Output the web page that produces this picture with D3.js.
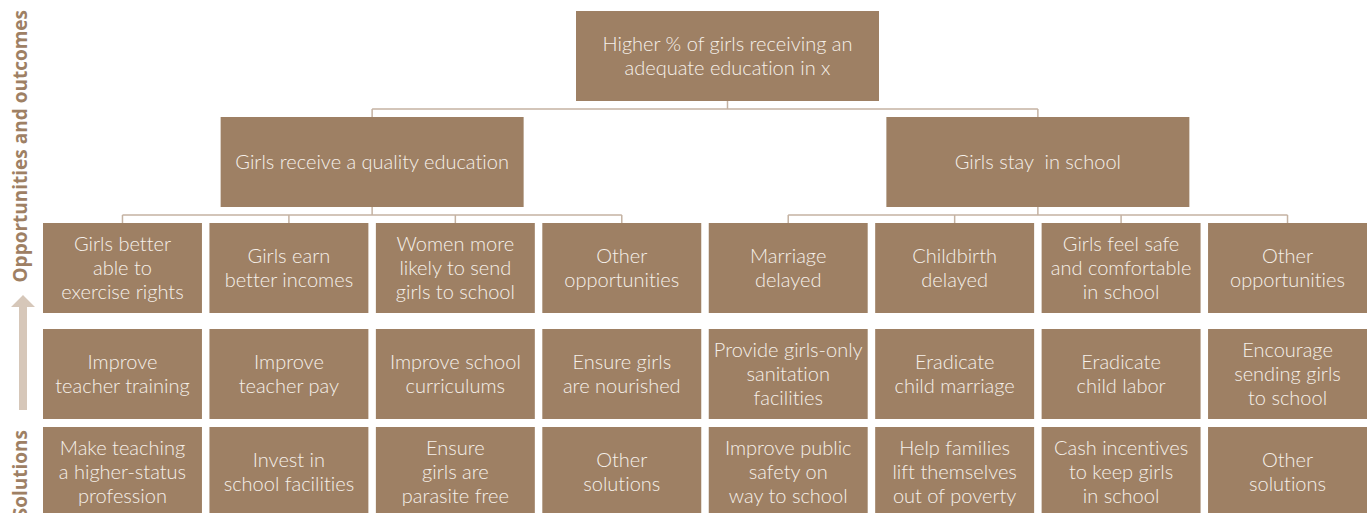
<!DOCTYPE html>
<html>
<head>
<meta charset="utf-8">
<script src="https://cdn.jsdelivr.net/npm/d3@7"></script>
<style>
  body { margin: 0; background: #fff; }
  .box-label { font-family: "Lato", sans-serif; font-weight: 300; fill: #f6f0ea;
    font-variant-ligatures: none; white-space: pre; }
  .side-label { font-family: "Open Sans", sans-serif; font-weight: 700; fill: #9e8064; }
</style>
</head>
<body>
<div id="chart"></div>
<script>
// Tree content, top to bottom
const goal = ["Higher % of girls receiving an", "adequate education in x"];
const pathways = [["Girls receive a quality education"], ["Girls stay  in school"]];
const opportunities = [
  ["Girls better", "able to", "exercise rights"],
  ["Girls earn", "better incomes"],
  ["Women more", "likely to send", "girls to school"],
  ["Other", "opportunities"],
  ["Marriage", "delayed"],
  ["Childbirth", "delayed"],
  ["Girls feel safe", "and comfortable", "in school"],
  ["Other", "opportunities"]
];
const solutionsA = [
  ["Improve", "teacher training"],
  ["Improve", "teacher pay"],
  ["Improve school", "curriculums"],
  ["Ensure girls", "are nourished"],
  ["Provide girls-only", "sanitation", "facilities"],
  ["Eradicate", "child marriage"],
  ["Eradicate", "child labor"],
  ["Encourage", "sending girls", "to school"]
];
const solutionsB = [
  ["Make teaching", "a higher-status", "profession"],
  ["Invest in", "school facilities"],
  ["Ensure", "girls are", "parasite free"],
  ["Other", "solutions"],
  ["Improve public", "safety on", "way to school"],
  ["Help families", "lift themselves", "out of poverty"],
  ["Cash incentives", "to keep girls", "in school"],
  ["Other", "solutions"]
];
const sideLabels = ["Opportunities and outcomes", "Solutions"];

const width = 1371, height = 513;
const boxColor = "#9e8064";
const lineColor = "#c4b2a2";
const boxH = 90;
const lineH = 24;

const svg = d3.select("#chart").append("svg")
  .attr("width", width)
  .attr("height", height);

// columns for the bottom three rows
const col = d3.scaleBand()
  .domain(d3.range(8))
  .range([43, 1367])
  .paddingInner(0.045);
const colMid = i => col(i) + col.bandwidth() / 2;

// row tops
const rowY = d3.scaleOrdinal()
  .domain(["goal", "path", "opp", "solA", "solB"])
  .range([11, 117, 223, 329, 427]);

const wideW = 303;
const pathCx = [
  (col(0) + col(3) + col.bandwidth()) / 2,
  (col(4) + col(7) + col.bandwidth()) / 2
];
const goalCx = 727.5;

// connectors
const links = svg.append("g")
  .attr("fill", "none")
  .attr("stroke", lineColor)
  .attr("stroke-width", 1.5);

function elbow(px, py, cxs, cy) {
  const midY = (py + cy) / 2;
  links.append("line").attr("x1", px).attr("x2", px).attr("y1", py).attr("y2", midY);
  links.append("line")
    .attr("x1", d3.min(cxs)).attr("x2", d3.max(cxs))
    .attr("y1", midY).attr("y2", midY);
  cxs.forEach(cx => {
    links.append("line").attr("x1", cx).attr("x2", cx).attr("y1", midY).attr("y2", cy);
  });
}

elbow(goalCx, rowY("goal") + boxH, pathCx, rowY("path"));
elbow(pathCx[0], rowY("path") + boxH, d3.range(0, 4).map(colMid), rowY("opp"));
elbow(pathCx[1], rowY("path") + boxH, d3.range(4, 8).map(colMid), rowY("opp"));

function drawBox(g, x, y, w, lines) {
  g.append("rect")
    .attr("x", x).attr("y", y)
    .attr("width", w).attr("height", boxH)
    .attr("fill", boxColor);
  const cy = y + boxH / 2;
  const t = g.append("text")
    .attr("class", "box-label")
    .attr("text-anchor", "middle")
    .attr("font-size", 20);
  lines.forEach((s, i) => {
    t.append("tspan")
      .attr("x", x + w / 2)
      .attr("y", cy + (i - (lines.length - 1) / 2) * lineH)
      .attr("dy", "0.35em")
      .text(s);
  });
}

const boxes = svg.append("g");
drawBox(boxes, goalCx - wideW / 2, rowY("goal"), wideW, goal);
pathways.forEach((d, i) => drawBox(boxes, pathCx[i] - wideW / 2, rowY("path"), wideW, d));
opportunities.forEach((d, i) => drawBox(boxes, col(i), rowY("opp"), col.bandwidth(), d));
solutionsA.forEach((d, i) => drawBox(boxes, col(i), rowY("solA"), col.bandwidth(), d));
solutionsB.forEach((d, i) => drawBox(boxes, col(i), rowY("solB"), col.bandwidth(), d));

// side labels and arrow
const side = svg.append("g");
side.append("text")
  .attr("class", "side-label")
  .attr("font-size", 19)
  .attr("text-anchor", "end")
  .attr("transform", "translate(27,10) rotate(-90)")
  .text(sideLabels[0]);
side.append("text")
  .attr("class", "side-label")
  .attr("font-size", 19)
  .attr("text-anchor", "end")
  .attr("transform", "translate(27,430) rotate(-90)")
  .text(sideLabels[1]);

const arrow = d3.path();
arrow.moveTo(19, 410);
arrow.lineTo(19, 307);
arrow.lineTo(11, 307);
arrow.lineTo(23, 295);
arrow.lineTo(35, 307);
arrow.lineTo(27, 307);
arrow.lineTo(27, 410);
arrow.closePath();
side.append("path")
  .attr("d", arrow.toString())
  .attr("fill", "#d6c7b9");
</script>
</body>
</html>
